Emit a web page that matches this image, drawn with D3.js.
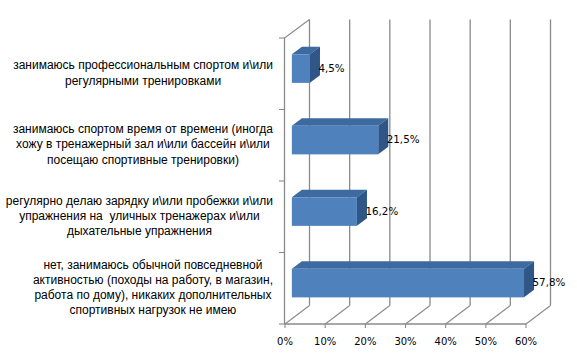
<!DOCTYPE html>
<html><head><meta charset="utf-8">
<script src="https://cdn.jsdelivr.net/npm/d3@7"></script>
<style>html,body{margin:0;padding:0;background:#fff;} text{white-space:pre;}</style>
</head><body>
<svg id="chart" width="577" height="360"></svg>
<script>
const categories = [
  ["занимаюсь профессиональным спортом и\\или", "регулярными тренировками"],
  ["занимаюсь спортом время от времени (иногда", "хожу в тренажерный зал и\\или бассейн и\\или", "посещаю спортивные тренировки)"],
  ["регулярно делаю зарядку и\\или пробежки и\\или", "упражнения на  уличных тренажерах и\\или", "дыхательные упражнения"],
  ["нет, занимаюсь обычной повседневной", "активностью (походы на работу, в магазин,", "работа по дому), никаких дополнительных", "спортивных нагрузок не имею"]
];
const values = [4.5, 21.5, 16.2, 57.8];
const valueLabels = ["4,5%", "21,5%", "16,2%", "57,8%"];
const ticks = [0, 10, 20, 30, 40, 50, 60];
const tickLabels = ["0%", "10%", "20%", "30%", "40%", "50%", "60%"];

const svg = d3.select("#chart");
const DX = 24.5, DY = -18.5;   // depth vector
const T0 = 0.28, T1 = 0.69;    // bar depth fractions
const yTop = 38, yBot = 324;
const x = d3.scaleLinear().domain([0, 60]).range([285, 526]);
const idx = categories.map((d, i) => i);
const y = d3.scaleBand().domain(idx).range([yTop, yBot]).paddingInner(0.6).paddingOuter(0.3);
const grid = "#8a8a8a";

const g = svg.append("g");
// back wall gridlines
g.selectAll("line.bg").data(ticks).join("line")
  .attr("x1", d => x(d) + DX).attr("x2", d => x(d) + DX)
  .attr("y1", yTop + DY).attr("y2", yBot + DY)
  .attr("stroke", grid).attr("stroke-width", 1.3);
// floor diagonals
g.selectAll("line.fl").data(ticks).join("line")
  .attr("x1", d => x(d)).attr("x2", d => x(d) + DX)
  .attr("y1", yBot).attr("y2", yBot + DY)
  .attr("stroke", grid).attr("stroke-width", 1.1);
// left wall front edge and top diagonal
g.append("line").attr("x1", x(0) - 0.5).attr("x2", x(0) - 0.5).attr("y1", yTop).attr("y2", yBot)
  .attr("stroke", grid).attr("stroke-width", 1.3);
g.append("line").attr("x1", x(0) - 0.5).attr("x2", x(0) + DX).attr("y1", yTop).attr("y2", yTop + DY)
  .attr("stroke", grid).attr("stroke-width", 1.1);
// bottom axis line
g.append("line").attr("x1", x(0) - 0.5).attr("x2", x(60)).attr("y1", yBot).attr("y2", yBot)
  .attr("stroke", grid).attr("stroke-width", 1.3);
// bottom ticks
g.selectAll("line.bt").data(ticks).join("line")
  .attr("x1", d => x(d)).attr("x2", d => x(d))
  .attr("y1", yBot).attr("y2", yBot + 4)
  .attr("stroke", grid).attr("stroke-width", 1.1);
// left category ticks (band boundaries)
const bounds = d3.range(categories.length + 1).map(i => yTop + i * y.step());
g.selectAll("line.lt").data(bounds).join("line")
  .attr("x1", x(0) - 6).attr("x2", x(0))
  .attr("y1", d => d).attr("y2", d => d)
  .attr("stroke", grid).attr("stroke-width", 1.1);

// bars
const ax = DX * T0, ay = DY * T0, bx = DX * T1, by = DY * T1;
const bars = svg.append("g").selectAll("g").data(values).join("g");
bars.each(function(v, i) {
  const s = d3.select(this);
  const x0 = x(0), xv = x(v), yt = y(i), yb = y(i) + y.bandwidth();
  s.append("polygon").attr("fill", "#3d6aa1")
    .attr("points", [[x0 + ax, yt + ay], [xv + ax, yt + ay], [xv + bx, yt + by], [x0 + bx, yt + by]].join(" "));
  s.append("polygon").attr("fill", "#2f5687")
    .attr("points", [[xv + ax, yt + ay], [xv + bx, yt + by], [xv + bx, yb + by], [xv + ax, yb + ay]].join(" "));
  s.append("rect").attr("x", x0 + ax).attr("y", yt + ay).attr("width", xv - x0).attr("height", y.bandwidth())
    .attr("fill", "#4f81bd");
});

// value labels
svg.append("g").selectAll("text").data(values).join("text")
  .attr("x", d => x(d) + bx - 1.5)
  .attr("y", (d, i) => y(i) + y.bandwidth() / 2 + ay)
  .attr("dominant-baseline", "middle")
  .attr("font-family", "DejaVu Sans").attr("font-size", 10.3).attr("fill", "#000")
  .text((d, i) => valueLabels[i]);

// x tick labels
svg.append("g").selectAll("text").data(ticks).join("text")
  .attr("x", d => x(d)).attr("y", 342)
  .attr("text-anchor", "middle").attr("dominant-baseline", "middle")
  .attr("font-family", "DejaVu Sans").attr("font-size", 10).attr("fill", "#000")
  .text((d, i) => tickLabels[i]);

// category labels
const lh = 15.2, rightEdge = 273;
categories.forEach((lines, i) => {
  const cy = y(i) + y.bandwidth() / 2;
  const t = svg.append("text")
    .attr("font-family", "Liberation Sans").attr("font-size", 12).attr("fill", "#000")
    .attr("text-anchor", "middle");
  const spans = lines.map((ln, k) => t.append("tspan").attr("dominant-baseline", "middle")
    .attr("y", cy + (k - (lines.length - 1) / 2) * lh).text(ln));
  const maxW = d3.max(spans, sp => sp.node().getComputedTextLength());
  spans.forEach(sp => sp.attr("x", rightEdge - maxW / 2));
});
</script>
</body></html>
